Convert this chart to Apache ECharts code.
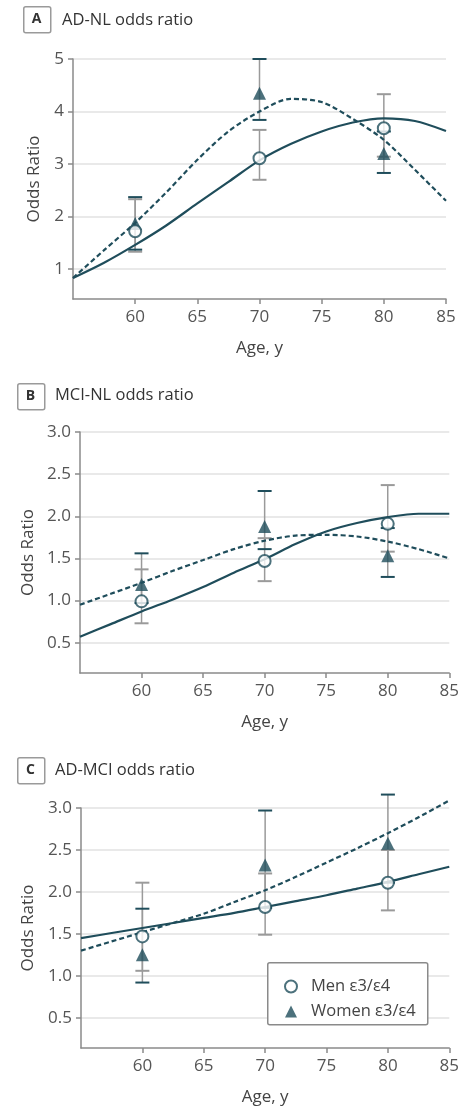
<!DOCTYPE html>
<html><head><meta charset="utf-8">
<script src="https://cdn.jsdelivr.net/npm/echarts@6/dist/echarts.min.js"></script>
<style>html,body{margin:0;padding:0;background:#fff}#c{width:462px;height:1108px}</style>
</head><body><div id="c"></div>
<script>
// ---------- data ----------
const fitAges = [55, 57.5, 60, 62.5, 65, 67.5, 70, 72.5, 75, 77.5, 80, 82.5, 85];
const pointAges = [60, 70, 80];
const xTicks = [60, 65, 70, 75, 80, 85];
const yTicksA = [1, 2, 3, 4, 5];
const yTicksBC = [0.5, 1.0, 1.5, 2.0, 2.5, 3.0];
const panelLetters = ['A', 'B', 'C'];
const panelTitles = ['AD-NL odds ratio', 'MCI-NL odds ratio', 'AD-MCI odds ratio'];
const seriesNames = ['Men ε3/ε4', 'Women ε3/ε4'];

// Panel A: AD-NL
const menFitA   = [0.83, 1.12, 1.46, 1.83, 2.25, 2.66, 3.07, 3.38, 3.62, 3.79, 3.87, 3.82, 3.63];
const womenFitA = [0.83, 1.36, 1.88, 2.46, 3.08, 3.62, 4.00, 4.24, 4.18, 3.86, 3.46, 2.89, 2.30];
const menOrA    = [1.72, 3.11, 3.68];
const menLoA    = [1.33, 2.70, 3.14];
const menHiA    = [2.33, 3.65, 4.33];
const womenOrA  = [1.87, 4.35, 3.20];
const womenLoA  = [1.37, 3.84, 2.83];
const womenHiA  = [2.37, 5.00, 3.62];

// Panel B: MCI-NL
const menFitB   = [0.57, 0.72, 0.87, 1.01, 1.16, 1.33, 1.49, 1.67, 1.82, 1.92, 1.99, 2.03, 2.03];
const womenFitB = [0.95, 1.08, 1.21, 1.35, 1.48, 1.61, 1.71, 1.77, 1.78, 1.76, 1.70, 1.61, 1.50];
const menOrB    = [0.99, 1.47, 1.91];
const menLoB    = [0.73, 1.23, 1.58];
const menHiB    = [1.37, 1.74, 2.37];
const womenOrB  = [1.19, 1.88, 1.53];
const womenLoB  = [0.97, 1.61, 1.28];
const womenHiB  = [1.56, 2.30, 1.86];

// Panel C: AD-MCI
const menFitC   = [1.45, 1.51, 1.57, 1.63, 1.69, 1.75, 1.82, 1.89, 1.96, 2.04, 2.12, 2.21, 2.30];
const womenFitC = [1.30, 1.41, 1.52, 1.63, 1.74, 1.88, 2.02, 2.18, 2.35, 2.52, 2.70, 2.89, 3.09];
const menOrC    = [1.47, 1.82, 2.11];
const menLoC    = [1.06, 1.49, 1.78];
const menHiC    = [2.11, 2.22, 2.50];
const womenOrC  = [1.25, 2.32, 2.58];
const womenLoC  = [0.92, 1.81, 2.11];
const womenHiC  = [1.80, 2.97, 3.16];

// ---------- styling ----------
const TEAL = '#1f4d5b';
const GRAY = '#9a9a9a';
const FONT = '"Open Sans", "Liberation Sans", sans-serif';

const panels = [
  {menFit: menFitA, womenFit: womenFitA, menOr: menOrA, menLo: menLoA, menHi: menHiA,
   womenOr: womenOrA, womenLo: womenLoA, womenHi: womenHiA, yTicks: yTicksA, yMin: 0.43, yMax: 5, dec: 0,
   grid: {left: 73, top: 59, width: 373, height: 240}, nameGap: 30,
   title: {bx: 23, by: 6, tx: 62, ty: 20}},
  {menFit: menFitB, womenFit: womenFitB, menOr: menOrB, menLo: menLoB, menHi: menHiB,
   womenOr: womenOrB, womenLo: womenLoB, womenHi: womenHiB, yTicks: yTicksBC, yMin: 0.14, yMax: 3, dec: 1,
   grid: {left: 80, top: 432, width: 372, height: 241}, nameGap: 43,
   title: {bx: 17, by: 383, tx: 55, ty: 395}},
  {menFit: menFitC, womenFit: womenFitC, menOr: menOrC, menLo: menLoC, menHi: menHiC,
   womenOr: womenOrC, womenLo: womenLoC, womenHi: womenHiC, yTicks: yTicksBC, yMin: 0.14, yMax: 3, dec: 1,
   grid: {left: 81, top: 808, width: 372, height: 240}, nameGap: 44,
   title: {bx: 17, by: 757, tx: 55, ty: 770}}
];

function errRender(capColor) {
  return function (params, api) {
    const x = api.value(0), lo = api.value(1), hi = api.value(2);
    const pl = api.coord([x, lo]), ph = api.coord([x, hi]);
    const hw = 7;
    return {type: 'group', children: [
      {type: 'line', shape: {x1: pl[0], y1: pl[1], x2: ph[0], y2: ph[1]}, style: {stroke: GRAY, lineWidth: 1.5}},
      {type: 'line', shape: {x1: pl[0] - hw, y1: pl[1], x2: pl[0] + hw, y2: pl[1]}, style: {stroke: capColor, lineWidth: 2}},
      {type: 'line', shape: {x1: ph[0] - hw, y1: ph[1], x2: ph[0] + hw, y2: ph[1]}, style: {stroke: capColor, lineWidth: 2}}
    ]};
  };
}

const grid = [], xAxis = [], yAxis = [], series = [], graphic = [];
panels.forEach((p, i) => {
  grid.push(Object.assign({containLabel: false}, p.grid));
  xAxis.push({
    type: 'value', gridIndex: i, min: 55, max: 85,
    name: 'Age, y', nameLocation: 'middle', nameGap: 41,
    nameTextStyle: {fontFamily: FONT, fontSize: 17, color: '#444'},
    axisLine: {show: true, lineStyle: {color: '#8a8a8a', width: 1.5}},
    axisTick: {show: true, length: 5, customValues: xTicks, lineStyle: {color: '#8a8a8a', width: 1.5}},
    axisLabel: {customValues: xTicks, margin: 10, fontFamily: FONT, fontSize: 17, color: '#555'},
    splitLine: {show: false}
  });
  yAxis.push({
    type: 'value', gridIndex: i, min: p.yMin, max: p.yMax,
    name: 'Odds Ratio', nameLocation: 'middle', nameGap: p.nameGap,
    nameTextStyle: {fontFamily: FONT, fontSize: 17, color: '#444'},
    axisLine: {show: true, lineStyle: {color: '#8a8a8a', width: 1.5}},
    axisTick: {show: true, length: 5, customValues: p.yTicks, lineStyle: {color: '#8a8a8a', width: 1.5}},
    axisLabel: {customValues: p.yTicks, margin: 9, fontFamily: FONT, fontSize: 17, color: '#555',
      formatter: v => Number(v).toFixed(p.dec)},
    splitLine: {show: true, lineStyle: {color: '#e2e2e2', width: 1.5}}
  });
  const ax = {xAxisIndex: i, yAxisIndex: i};
  series.push(Object.assign({type: 'custom', name: 'menErr' + i, renderItem: errRender(GRAY), z: 2,
    encode: {x: 0, y: [1, 2]}, data: pointAges.map((a, k) => [a, p.menLo[k], p.menHi[k]])}, ax));
  series.push(Object.assign({type: 'custom', name: 'womenErr' + i, renderItem: errRender(TEAL), z: 2,
    encode: {x: 0, y: [1, 2]}, data: pointAges.map((a, k) => [a, p.womenLo[k], p.womenHi[k]])}, ax));
  series.push(Object.assign({type: 'line', name: 'menFit' + i, smooth: 0.3, showSymbol: false, z: 3, clip: false,
    lineStyle: {color: TEAL, width: 2.2}, data: fitAges.map((a, k) => [a, p.menFit[k]])}, ax));
  series.push(Object.assign({type: 'line', name: 'womenFit' + i, smooth: 0.3, showSymbol: false, z: 3, clip: false,
    lineStyle: {color: TEAL, width: 2.2, type: [5, 3]}, data: fitAges.map((a, k) => [a, p.womenFit[k]])}, ax));
  series.push(Object.assign({type: 'scatter', name: seriesNames[1], symbol: 'triangle', symbolSize: 13, z: 4,
    itemStyle: {color: TEAL}, data: pointAges.map((a, k) => [a, p.womenOr[k]])}, ax));
  series.push(Object.assign({type: 'scatter', name: seriesNames[0], symbol: 'circle', symbolSize: 12, z: 5,
    itemStyle: {color: '#fff', borderColor: TEAL, borderWidth: 2}, data: pointAges.map((a, k) => [a, p.menOr[k]])}, ax));

  const t = p.title;
  graphic.push({type: 'rect', left: t.bx, top: t.by, shape: {width: 27, height: 26, r: 2},
    style: {fill: '#fff', stroke: '#9a9a9a', lineWidth: 1.5}});
  graphic.push({type: 'text', x: t.bx + 13.5, y: t.by + 13.5,
    style: {text: panelLetters[i], fontFamily: FONT, fontWeight: 'bold', fontSize: 14, fill: '#333',
      align: 'center', verticalAlign: 'middle'}});
  graphic.push({type: 'text', x: t.tx, y: t.ty,
    style: {text: panelTitles[i], fontFamily: FONT, fontSize: 16.5, fill: '#333',
      align: 'left', verticalAlign: 'middle'}});
});

graphic.push({type: 'rect', left: 267, top: 962, shape: {width: 160, height: 62, r: 2},
  style: {fill: '#fff', stroke: '#8a8a8a', lineWidth: 1.5}, z: 10});

const option = {
  animation: false,
  backgroundColor: '#fff',
  grid, xAxis, yAxis, series, graphic,
  legend: {
    orient: 'vertical', left: 279, top: 973, itemWidth: 12, itemHeight: 12, itemGap: 8, z: 20,
    textStyle: {fontFamily: FONT, fontSize: 16.5, color: '#444', padding: [0, 0, 0, 9]},
    data: [
      {name: seriesNames[0], icon: 'circle', itemStyle: {color: '#fff', borderColor: TEAL, borderWidth: 2}},
      {name: seriesNames[1], icon: 'triangle', itemStyle: {color: TEAL}}
    ]
  }
};
const chart = echarts.init(document.getElementById('c'), null, {renderer: 'canvas'});
chart.setOption(option);
</script>
</body></html>
